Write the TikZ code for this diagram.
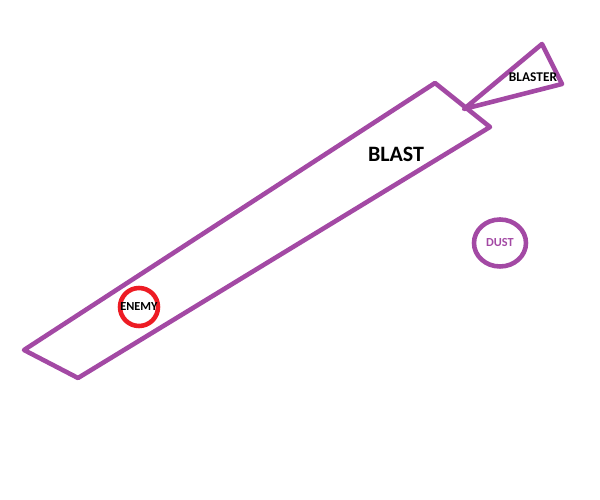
\documentclass[tikz,border=0pt]{standalone}
\usepackage{fontspec}
\setmainfont{Carlito}
\usetikzlibrary{positioning,shapes.geometric}
\definecolor{paintpurple}{HTML}{A349A4}
\definecolor{paintred}{HTML}{ED1C24}

\begin{document}
\begin{tikzpicture}[x=0.02cm,y=-0.02cm,
        paint/.style={draw=paintpurple,line width=2.6pt,line join=round,line cap=round},
        lbl/.style={text=black,inner sep=0pt,font=\bfseries\fontsize{7}{8}\selectfont}]
        \useasboundingbox (0,0) rectangle (600,500);
        % the blast beam
        \coordinate (b1) at (24,350);
        \coordinate (b2) at (435,83);
        \coordinate (b3) at (490,127);
        \coordinate (b4) at (78,378);
        \draw[paint] (b1) -- (b2) -- (b3) -- (b4) -- cycle;
        % the blaster
        \coordinate (tip) at (464,109);
        \coordinate (t1) at (542,44);
        \coordinate (t2) at (562,84);
        \draw[paint] (tip) -- (t1) -- (t2) -- cycle;
        \node[lbl,font=\bfseries\fontsize{7.6}{9}\selectfont] (blaster) at (533,77) {BLASTER};
        \node[lbl,font=\bfseries\fontsize{12.5}{14}\selectfont] (blast) at (396,154) {BLAST};
        \node[lbl,circle,draw=paintred,line width=2.6pt,minimum size=38*0.02cm] (enemy) at (139,307) {ENEMY};
        \node[lbl,ellipse,draw=paintpurple,line width=2.6pt,text=paintpurple,
              minimum width=52*0.02cm,minimum height=47*0.02cm] (dust) at (500,243) {DUST};
      \end{tikzpicture}
\end{document}
